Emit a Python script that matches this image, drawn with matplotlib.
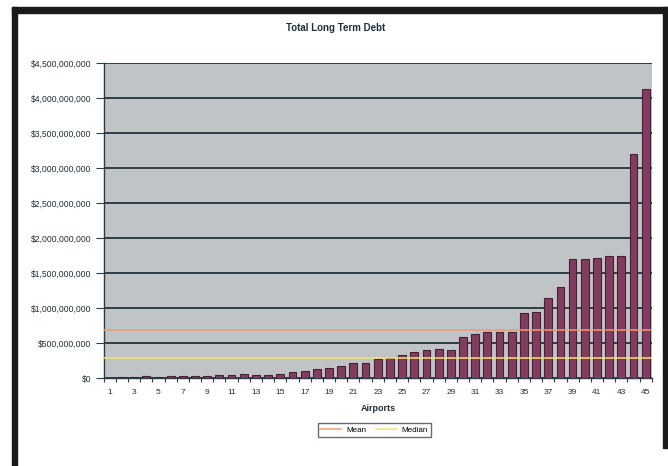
import matplotlib
matplotlib.use("Agg")
import matplotlib.pyplot as plt
from matplotlib.patches import Rectangle
from matplotlib.lines import Line2D
from matplotlib.ticker import FuncFormatter, FixedLocator
import numpy as np

plt.rcParams['font.family'] = ['Liberation Sans', 'DejaVu Sans']

# Total long term debt per airport, sorted ascending (US dollars)
airports = list(range(1, 46))
debt = [
    10e6, 25e6, 20e6, 30e6, 25e6, 30e6, 30e6, 30e6, 35e6, 40e6,
    50e6, 55e6, 45e6, 48e6, 62e6, 85e6, 105e6, 135e6, 143e6, 177e6,
    220e6, 225e6, 280e6, 287e6, 335e6, 370e6, 410e6, 417e6, 400e6, 590e6,
    630e6, 665e6, 665e6, 665e6, 930e6, 940e6, 1140e6, 1310e6, 1710e6, 1710e6,
    1720e6, 1750e6, 1740e6, 3200e6, 4130e6,
]
mean_value = 695e6
median_value = 287e6

y_ticks = [0, 500e6, 1000e6, 1500e6, 2000e6, 2500e6, 3000e6, 3500e6, 4000e6, 4500e6]
x_tick_labels = [str(n) for n in range(1, 46, 2)]

fig = plt.figure(figsize=(6.68, 4.66), dpi=100)
fig.patch.set_facecolor("white")

ax = fig.add_axes([0.1552, 0.1882, 0.8205, 0.676])
ax.set_facecolor("#c1c4c7")

# horizontal gridlines
ax.set_axisbelow(True)
ax.yaxis.grid(True, color="#2c3d46", linewidth=1.4)

ax.bar(airports, debt, width=0.64, color="#803d60", edgecolor="#4a1f34",
       linewidth=0.8, zorder=3)

# mean and median reference lines
x_span = [0.5, 45.5]
ax.plot(x_span, [mean_value] * 2, color="#f59a6c", linewidth=1.1, zorder=4)
ax.plot(x_span, [median_value] * 2, color="#f2e27a", linewidth=1.1, zorder=4)

ax.set_xlim(0.5, 45.5)
ax.set_ylim(0, 4.5e9)
ax.set_yticks(y_ticks)
ax.yaxis.set_major_formatter(FuncFormatter(lambda v, p: "${:,.0f}".format(v)))
ax.tick_params(axis="y", labelsize=6.2, length=6, width=0.8, color="#2c3d46",
               pad=3, labelcolor="#1f2f3a")

ax.xaxis.set_major_locator(FixedLocator(list(range(1, 46, 2))))
ax.set_xticklabels(x_tick_labels)
ax.xaxis.set_minor_locator(FixedLocator(np.arange(0.5, 46, 1.0)))
ax.tick_params(axis="x", which="major", labelsize=6.0, length=0, pad=8,
               labelcolor="#1f2f3a")
ax.tick_params(axis="x", which="minor", length=3, width=0.8, color="#2c3d46")

for side in ("top", "right"):
    ax.spines[side].set_visible(False)
for side in ("left", "bottom"):
    ax.spines[side].set_color("#2c3d46")
    ax.spines[side].set_linewidth(1.0)

fig.text(0.502, 0.94, "Total Long Term Debt", ha="center", va="center",
         fontsize=7, fontweight="bold", color="#1f2f3a")
fig.text(0.566, 0.124, "Airports", ha="center", va="center",
         fontsize=6.5, fontweight="bold", color="#1f2f3a")

handles = [Line2D([], [], color="#f59a6c", linewidth=1.1),
           Line2D([], [], color="#f2e27a", linewidth=1.1)]
leg = fig.legend(handles, ["Mean", "Median"], loc="center",
                 bbox_to_anchor=(0.56, 0.077), ncol=2, fontsize=5.8,
                 frameon=True, fancybox=False, handlelength=2.6,
                 columnspacing=1.2, borderpad=0.35, handletextpad=0.6)
leg.get_frame().set_edgecolor("#3a4a55")
leg.get_frame().set_linewidth(1.0)

# black frame around the chart
frame = "#1a1a1a"
fig.patches.append(Rectangle((12 / 668, 453 / 466), 656 / 668, 6 / 466,
                             transform=fig.transFigure, color=frame, zorder=10))
fig.patches.append(Rectangle((12 / 668, 0), 5 / 668, 459 / 466,
                             transform=fig.transFigure, color=frame, zorder=10))
fig.patches.append(Rectangle((663 / 668, 18 / 466), 5 / 668, 441 / 466,
                             transform=fig.transFigure, color=frame, zorder=10))

fig.savefig("out.png", dpi=100, facecolor="white")
